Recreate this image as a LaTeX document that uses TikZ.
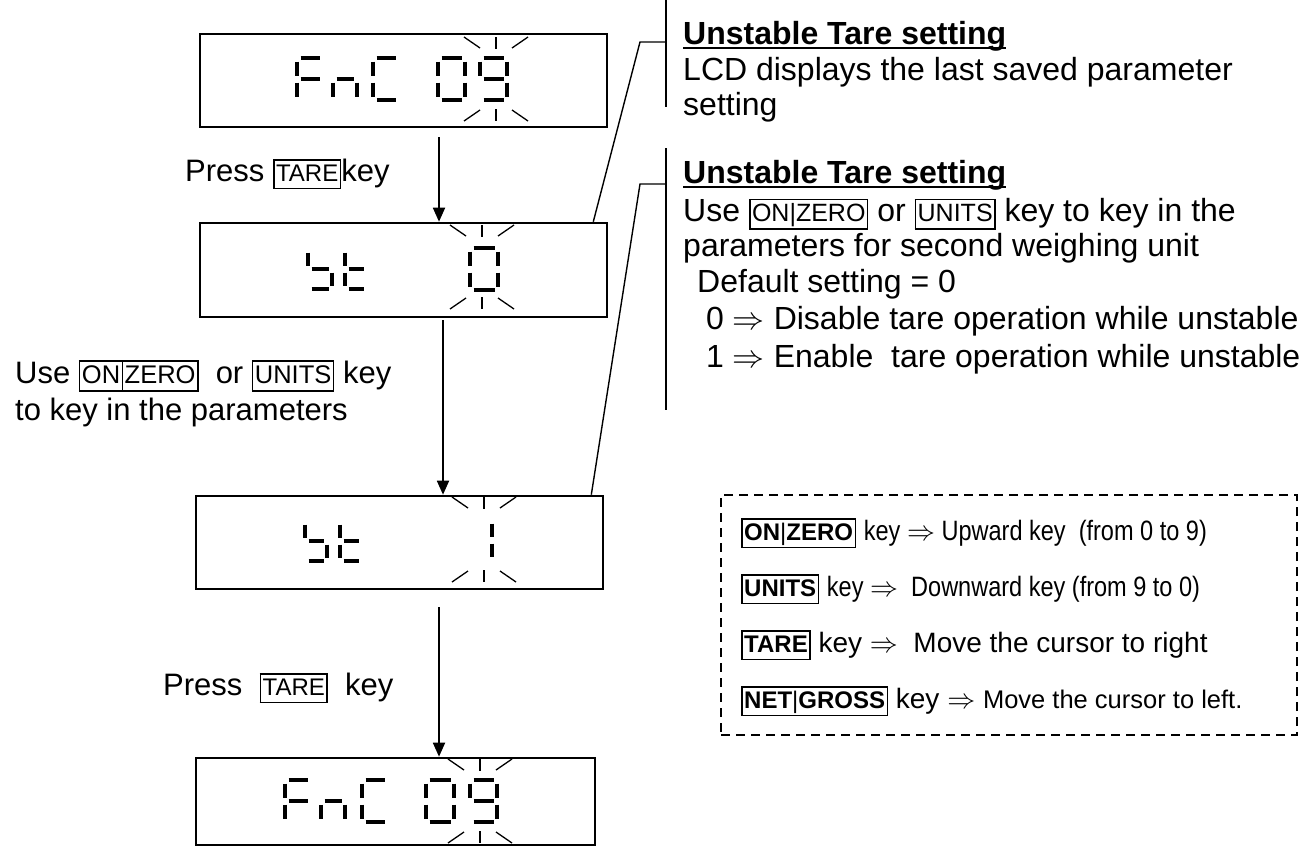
\documentclass[tikz,border=0pt]{standalone}
\usepackage{fix-cm}
\usepackage{fontspec}
\setmainfont{Liberation Sans}
\newfontfamily\narrowfont{Liberation Sans}[FakeStretch=0.84]
\usetikzlibrary{arrows.meta}
\newcommand\keybox[2][24]{{\fontsize{#1}{#1}\selectfont\setlength\fboxsep{1.5pt}\setlength\fboxrule{1.5pt}\fbox{\rule[-0.22em]{0pt}{1em}#2}}}
\newcommand\keysplit[3][24]{{\fontsize{#1}{#1}\selectfont\setlength\fboxsep{1.5pt}\setlength\fboxrule{1.5pt}\fbox{\rule[-0.22em]{0pt}{1em}#2}\kern-1.5pt\fbox{\rule[-0.22em]{0pt}{1em}#3}}}
\newcommand\sevseg[5]{%
 \begin{scope}[shift={(#1,#2)}]
 \foreach \sg in {#5}{%
  \ifcase\sg\or
   \draw[segline] (3.5,0) -- (#3-3.5,0);\or
   \draw[segline] (#3,3.5) -- (#3,#4/2-3.5);\or
   \draw[segline] (#3,#4/2+3.5) -- (#3,#4-3.5);\or
   \draw[segline] (3.5,#4) -- (#3-3.5,#4);\or
   \draw[segline] (0,#4/2+3.5) -- (0,#4-3.5);\or
   \draw[segline] (0,3.5) -- (0,#4/2-3.5);\or
   \draw[segline] (3.5,#4/2) -- (#3-3.5,#4/2);%
  \fi}%
 \end{scope}}
\newcommand\burst[3]{%
 \draw[ray] (#1-32,#2) -- (#1-16,#2+11);
 \draw[ray] (#1,#2) -- (#1,#2+12);
 \draw[ray] (#1+16,#2+11) -- (#1+32,#2);
 \draw[ray] (#1-32,#3) -- (#1-16,#3-11);
 \draw[ray] (#1,#3-12) -- (#1,#3);
 \draw[ray] (#1+16,#3-11) -- (#1+32,#3);}
\begin{document}
\begin{tikzpicture}[x=1pt,y=-1pt,
  lcd/.style={draw, line width=2.6pt, inner sep=0pt},
  arr/.style={line width=1.8pt, -{Triangle[length=14pt,width=12pt]}},
  callout/.style={line width=1.4pt},
  segline/.style={line width=3.6pt},
  ray/.style={line width=1.3pt},
  txt/.style={inner sep=0pt, anchor=base west, font=\fontsize{31}{36}\selectfont},
  rtxt/.style={inner sep=0pt, anchor=base west, font=\fontsize{32}{36}\selectfont},
  rhead/.style={inner sep=0pt, anchor=base west, font=\fontsize{32}{36}\selectfont\bfseries},
  legtxt/.style={inner sep=0pt, anchor=base west, font=\fontsize{28}{32}\selectfont},
  legbox/.style={draw, line width=2pt, dash pattern=on 9pt off 6pt, inner sep=0pt}]
\useasboundingbox (0,0) rectangle (1306,847);

% LCD boxes
\node[lcd, minimum width=407pt, minimum height=93pt] (box1) at (403.5,80.5) {};
\node[lcd, minimum width=407pt, minimum height=94pt] (box2) at (403.5,270) {};
\node[lcd, minimum width=407pt, minimum height=93pt] (box3) at (399.5,542.5) {};
\node[lcd, minimum width=399pt, minimum height=87pt] (box4) at (395.5,801.5) {};

% box1: FnC 09
\sevseg{297}{58}{26}{42}{1,5,6,7}
\sevseg{333}{58}{24}{42}{3,5,7}
\sevseg{373}{58}{26}{42}{1,4,5,6}
\sevseg{438}{58}{27}{42}{1,2,3,4,5,6}
\sevseg{480}{58}{27}{42}{1,2,3,4,6,7}
\burst{496}{37}{121}
% box2: bt 0
\sevseg{308}{249}{24}{40}{3,4,6,7}
\sevseg{345}{249}{22}{40}{4,5,6,7}
\sevseg{470}{248}{28}{42}{1,2,3,4,5,6}
\burst{482}{225}{309}
% box3: bt 1
\sevseg{305}{521}{22}{40}{3,4,6,7}
\sevseg{340}{521}{22}{40}{4,5,6,7}
\sevseg{466}{520}{26}{40}{2,3}
\burst{484}{497}{582}
% box4: FnC 09
\sevseg{285}{780}{26}{42}{1,5,6,7}
\sevseg{321}{780}{24}{42}{3,5,7}
\sevseg{362}{780}{26}{42}{1,4,5,6}
\sevseg{426}{780}{28}{42}{1,2,3,4,5,6}
\sevseg{470}{780}{27}{42}{1,2,3,4,6,7}
\burst{480}{759}{843}

% arrows
\coordinate (a1) at (439,137);
\coordinate (a2) at (443,320);
\coordinate (a3) at (439,607);
\draw[arr] (a1) -- (a1 |- box2.north);
\draw[arr] (a2) -- (a2 |- box3.north);
\draw[arr] (a3) -- (a3 |- box4.north);

% left labels
\node[txt] (p1) at (185,181) {Press \keybox{TARE}key};
\node[txt] (u1) at (15,383) {Use \keysplit[25.5]{ON}{ZERO}~ or \keybox[25.5]{UNITS} key};
\node[txt] (u2) at (15,420) {to key in the parameters};
\node[txt] (p2) at (163,695) {Press~ \keybox{TARE}~ key};

% callout bars
\coordinate (bar1top) at (666,0);
\coordinate (bar1bot) at (666,107);
\coordinate (bar2top) at (666,148);
\coordinate (bar2bot) at (666,410);
\draw[callout] (bar1top) -- (bar1bot);
\draw[callout] (bar2top) -- (bar2bot);
\coordinate (c1) at (640,42);
\coordinate (c2) at (640,184);
\draw[callout] ([xshift=-15pt]box2.north east) -- (c1) -- (c1 -| bar1top);
\draw[callout] ([xshift=-13pt]box3.north east) -- (c2) -- (c2 -| bar2top);

% right text block 1
\node[rhead] (h1) at (683,44) {Unstable Tare setting};
\draw[line width=2.2pt] ([yshift=-4pt]h1.base west) -- ([yshift=-4pt]h1.base east);
\node[rtxt] (l1a) at (683,80) {LCD displays the last saved parameter};
\node[rtxt] (l1b) at (683,115) {setting};

% right text block 2
\node[rhead] (h2) at (683,183) {Unstable Tare setting};
\draw[line width=2.2pt] ([yshift=-4pt]h2.base west) -- ([yshift=-4pt]h2.base east);
\node[rtxt] (l2a) at (683,221) {Use \keybox[25]{ON|ZERO} or \keybox[25]{UNITS} key to key in the};
\node[rtxt] (l2b) at (683,256) {parameters for second weighing unit};
\node[rtxt] (l2c) at (697,292) {Default setting = 0};
\node[rtxt] (l2d) at (706,329) {0 $\Rightarrow$ Disable tare operation while unstable};
\node[rtxt] (l2e) at (706,367) {1 $\Rightarrow$ Enable~ tare operation while unstable};

% legend
\node[legbox, minimum width=576pt, minimum height=240pt] (legend) at (1009,615) {};
\node[legtxt] (k1) at (741,540) {\keybox{\textbf{ON}|\textbf{ZERO}} {\narrowfont key $\Rightarrow$ Upward key~ (from 0 to 9)}};
\node[legtxt] (k2) at (741,596) {\keybox{\textbf{UNITS}} {\narrowfont key $\Rightarrow$~ Downward key (from 9 to 0)}};
\node[legtxt] (k3) at (741,652) {\keybox{\textbf{TARE}} key $\Rightarrow$~ Move the cursor to right};
\node[legtxt] (k4) at (741,708) {\keybox{\textbf{NET}|\textbf{GROSS}} key $\Rightarrow$ {\fontsize{25.5}{28}\selectfont Move the cursor to left.}};
\end{tikzpicture}
\end{document}
